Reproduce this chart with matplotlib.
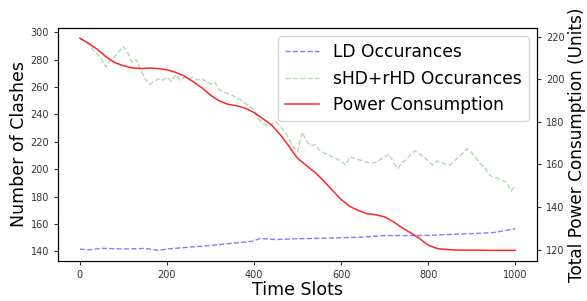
import matplotlib
matplotlib.use('Agg')
import matplotlib.pyplot as plt
import numpy as np

# sHD+rHD occurances (left axis), every 10 slots
green_t = np.arange(0, 1001, 10)
green = [295.5, 294, 292, 287, 284, 280, 274.5, 280, 282, 286,
         289.5, 285, 278, 280, 272, 266, 262, 264, 266, 265,
         267, 264, 269, 265, 267, 265.5, 267, 265, 266, 264,
         262, 263.5, 258, 256.5, 255, 254, 252, 250.5, 248, 246,
         243, 237, 233, 232, 232.5, 235, 231, 228, 222, 216,
         213, 227, 221, 217, 218, 214, 212, 210.5, 209, 207.5,
         206, 203, 209, 208, 207, 206, 205, 204.5, 205, 207,
         209, 211, 205, 200.5, 205, 207, 211, 213.5, 211, 209,
         206, 203, 206, 205, 203.5, 203, 206, 209, 212, 215,
         212, 208, 204, 201, 196, 194, 193.5, 192, 190.5, 184,
         188]

# LD occurances (left axis)
blue_t = [0, 20, 50, 100, 150, 180, 200, 250, 300, 350, 395, 415, 450,
          500, 550, 600, 650, 700, 750, 800, 850, 900, 950, 1000]
blue = [141.7, 141.2, 142.3, 141.8, 142.2, 140.8, 141.8, 143.1, 144.4,
        146.0, 147.4, 149.5, 148.7, 149.3, 149.6, 150.0, 150.5, 151.6,
        151.6, 151.7, 152.4, 153.0, 153.8, 156.6]

# power consumption (right axis), every 20 slots
red_t = np.arange(0, 1001, 20)
red = [219.2, 216.8, 214, 210.5, 207.8, 206.3, 205.3, 205, 205.2, 205,
       204.4, 203.2, 201.5, 198.8, 196, 192.5, 189.8, 188.2, 187.5, 186.4,
       184.3, 181.5, 178.5, 174, 168.5, 162.8, 159.5, 156.2, 152.2, 147.8,
       143.5, 140.2, 138.3, 136.8, 136.3, 135.3, 133, 130.2, 127.8, 125.2,
       122, 120.5, 120, 119.8, 119.7, 119.7, 119.7, 119.6, 119.6, 119.6,
       119.6]

fig, ax = plt.subplots(figsize=(5.87, 3.01), dpi=100)
fig.subplots_adjust(left=0.099, right=0.915, top=0.908, bottom=0.133)
ax2 = ax.twinx()

l1, = ax.plot(blue_t, blue, 'b--', alpha=0.5, lw=1, label='LD Occurances')
l2, = ax.plot(green_t, green, 'g--', alpha=0.3, lw=1, label='sHD+rHD Occurances')
l3, = ax2.plot(red_t, red, 'r-', alpha=0.85, lw=1.1, label='Power Consumption')

ax.set_xlabel('Time Slots', fontsize=12.5, labelpad=1)
ax.set_ylabel('Number of Clashes', fontsize=12.5, labelpad=2)
ax2.set_ylabel('Total Power Consumption (Units)', fontsize=12.2, labelpad=2)

for a in (ax, ax2):
    a.tick_params(labelsize=7, colors='#333333', length=3, width=0.8)
    for s in a.spines.values():
        s.set_linewidth(0.8)

ax.legend(handles=[l1, l2, l3], loc='upper right', fontsize=12.3,
          handlelength=2.0, borderaxespad=0.5)

plt.savefig('out.png', dpi=100)
